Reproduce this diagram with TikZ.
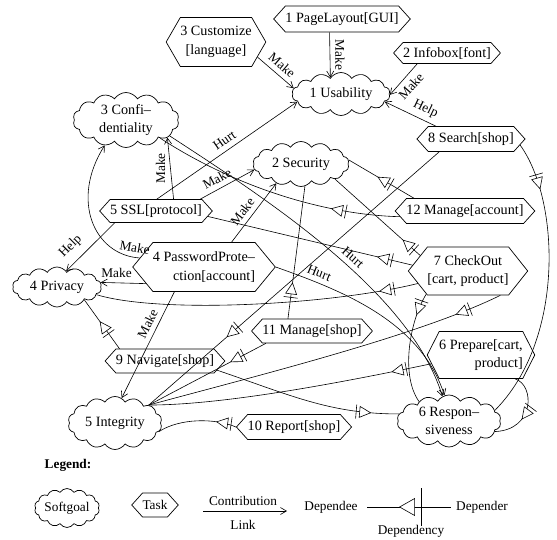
\documentclass[tikz,border=0pt]{standalone}
\usepackage{fontspec}
\setmainfont{Liberation Serif}
\usetikzlibrary{shapes.symbols,shapes.geometric,arrows.meta,decorations.markings,calc}
\newcommand\depsym{\draw[fill=white,line width=0.6pt] (0pt,0pt) -- (-11pt,5.5pt) -- (-11pt,-5.5pt) -- cycle; \draw[line width=0.6pt] (-14.5pt,7pt) -- (-14.5pt,-7pt);}
\newcommand\depsymbig{\draw[fill=white,line width=0.6pt] (0pt,0pt) -- (-15pt,8.5pt) -- (-15pt,-8.5pt) -- cycle; \draw[line width=0.6pt] (-21.5pt,19pt) -- (-21.5pt,-19pt);}
\begin{document}
\begin{tikzpicture}[x=1pt,y=-1pt,
  every node/.style={font=\fontsize{14.2}{18.5}\selectfont},
  sg/.style={cloud, cloud puffs=14, cloud puff arc=115, cloud ignores aspect, draw, line width=0.7pt, inner sep=0pt, align=center},
  tk/.style={signal, signal to=east and west, signal pointer angle=96, draw, line width=0.7pt, inner sep=0pt, align=center},
  con/.style={line width=0.6pt, -{Straight Barb[length=6pt,width=7pt]}},
  lb/.style={font=\fontsize{13.3}{15}\selectfont, inner sep=5pt},
  dep/.style={line width=0.6pt, postaction={decorate, decoration={markings, mark=at position #1 with {\depsym}}}},
]
\useasboundingbox (0,0) rectangle (557,540);

% tasks
\node[tk, minimum width=120pt, minimum height=26pt] (pl) at (342,19) {1 PageLayout[GUI]};
\node[tk, minimum width=94pt, minimum height=21pt] (ib) at (447,53) {2 Infobox[font]};
\node[tk, signal pointer angle=120, minimum width=78pt, minimum height=49pt] (cu) at (216,42) {3 Customize\\{}[language]};
\node[tk, minimum width=91pt, minimum height=25pt] (se) at (471,139) {8 Search[shop]};
\node[tk, minimum width=97pt, minimum height=23pt] (ssl) at (156,211) {5 SSL[protocol]};
\node[tk, minimum width=128pt, minimum height=25pt] (ma) at (465,211) {12 Manage[account]};
\node[tk, signal pointer angle=101, minimum width=105pt, minimum height=49pt, align=right] (pp) at (204,267) {4 PasswordProte\textendash\\ction[account]};
\node[tk, signal pointer angle=103, minimum width=82pt, minimum height=48pt] (ck) at (468,271) {7 CheckOut\\{}[cart, product]};
\node[tk, minimum width=110pt, minimum height=24pt] (ms) at (312,331) {11 Manage[shop]};
\node[tk, minimum width=104pt, minimum height=24pt] (nv) at (165,361) {9 Navigate[shop]};
\node[tk, signal pointer angle=126, minimum width=93pt, minimum height=47pt, align=right] (pe) at (481,355) {6 Prepare[cart,\\product]};
\node[tk, minimum width=97pt, minimum height=25pt] (rp) at (294,427) {10 Report[shop]};

% softgoals
\node[sg, minimum width=98pt, minimum height=43pt] (us) at (341,94) {1 Usability};
\node[sg, minimum width=106pt, minimum height=55pt] (co) at (126,120) {3 Confi\textendash\\dentiality};
\node[sg, minimum width=96pt, minimum height=45pt] (sc) at (301,164) {2 Security};
\node[sg, minimum width=89pt, minimum height=40pt] (pr) at (57,287) {4 Privacy};
\node[sg, minimum width=94pt, minimum height=53pt] (in) at (115,423) {5 Integrity};
\node[sg, minimum width=104pt, minimum height=52pt] (rs) at (449,421) {6 Respon\textendash\\siveness};

% contributions
\draw[con] (cu.-20) -- (us.173) node[lb, midway, sloped, above] {Make};
\draw[con] (pl.-133) -- (us.123) node[lb, midway, rotate=-90, anchor=south] {Make};
\draw[con] (ib.-160) -- (us.-1) node[lb, midway, sloped, below] {Make};
\draw[con] (se.160) -- (us.-10) node[lb, pos=0.3, sloped, above] {Help};
\draw[con] (ssl.86) -- (us.-170) node[lb, pos=0.52, sloped, above] {Hurt};
\draw[con] (ssl.34) -- (co.-23) node[lb, midway, rotate=90, anchor=south] {Make};
\draw[con] (ssl.15) -- (sc.-173) node[lb, pos=0.4, sloped, above] {Make};
\draw[con] (pp.42) -- (sc.-142) node[lb, pos=0.42, sloped, above] {Make};
\draw[con] (pp.-164) -- (pr.6) node[lb, pos=0.65, above] {Make};
\draw[con] (pp.172) .. controls (94,255) and (70,200) .. (co.-130) node[lb, pos=0.05, sloped, above] {Make};
\draw[con] (ssl.-164) -- (pr.60) node[lb, pos=0.7, sloped, above, inner sep=8pt] {Help};
\draw[con] (pp.-140) -- (in.75) node[lb, pos=0.34, sloped, above] {Make};
\draw[con] (co.-20) .. controls (260,195) and (410,290) .. (rs.105) node[lb, pos=0.56, sloped, above] {Hurt};
\draw[con] (pp.east) .. controls (340,290) and (420,320) .. (rs.100) node[lb, pos=0.2, sloped, above] {Hurt};

% dependencies
\draw[dep=0.12] (ck.-166) .. controls (330,305) and (160,314) .. (pr.-11);
\draw[dep=0.2] (ck.162) -- (sc.-24);
\draw[dep=0.55] (ma.166) -- (sc.5);
\draw[dep=0.27] (ma.-175) .. controls (330,215) and (240,190) .. (co.-28);
\draw[dep=0.17] (ck.174) -- (ssl.-6);
\draw[dep=0.73] (se.-158) -- (in.28);
\draw[dep=0.27] (ms.153) -- (sc.-80);
\draw[dep=0.3] (ms.-165) -- (in.28);
\draw[dep=0.55] (nv.165) -- (pr.-25);
\draw[dep=0.85] (nv.-10) .. controls (290,395) and (330,414) .. (rs.172);
\draw[dep=0.25] (rp.west) .. controls (215,418) and (180,418) .. (in.-11);
\draw[dep=0.14] (pe.-170) .. controls (330,385) and (220,405) .. (in.28);
\draw[dep=0.13] (ck.-37) .. controls (420,335) and (260,375) .. (in.28);
\draw[dep=0.2] (ck.-151) .. controls (410,320) and (400,375) .. (rs.147);
\draw[dep=0.17] (se.-7) .. controls (560,200) and (565,340) .. (rs.13);
\draw[dep=0.6] (pe.-35) .. controls (535,385) and (535,430) .. (rs.-13);

% legend
\node[font=\bfseries\fontsize{13.3}{15}\selectfont] (lg) at (68,465) {Legend:};
\node[sg, minimum width=65pt, minimum height=39pt, font=\fontsize{13.3}{15}\selectfont] (lsg) at (67,508) {Softgoal};
\node[tk, minimum width=30pt, minimum height=24pt, font=\fontsize{13.3}{15}\selectfont] (ltk) at (155,505) {Task};
\coordinate (lca) at (203,511);
\coordinate (lcb) at (287,511);
\draw[con] (lca) -- (lcb);
\node[lb, inner sep=0pt] (lct) at (243,501) {Contribution};
\node[lb, inner sep=0pt] (lcl) at (243,525) {Link};
\node[lb, inner sep=0pt] (lde) at (331,507) {Dependee};
\node[lb, inner sep=0pt] (ldr) at (482,507) {Depender};
\draw[line width=0.6pt, postaction={decorate, decoration={markings, mark=at position 0.61 with {\depsymbig}}}] ([xshift=-5pt]ldr.west) -- ([xshift=9pt]lde.east);
\node[lb, inner sep=0pt] (ldy) at (411,531) {Dependency};
\end{tikzpicture}
\end{document}
